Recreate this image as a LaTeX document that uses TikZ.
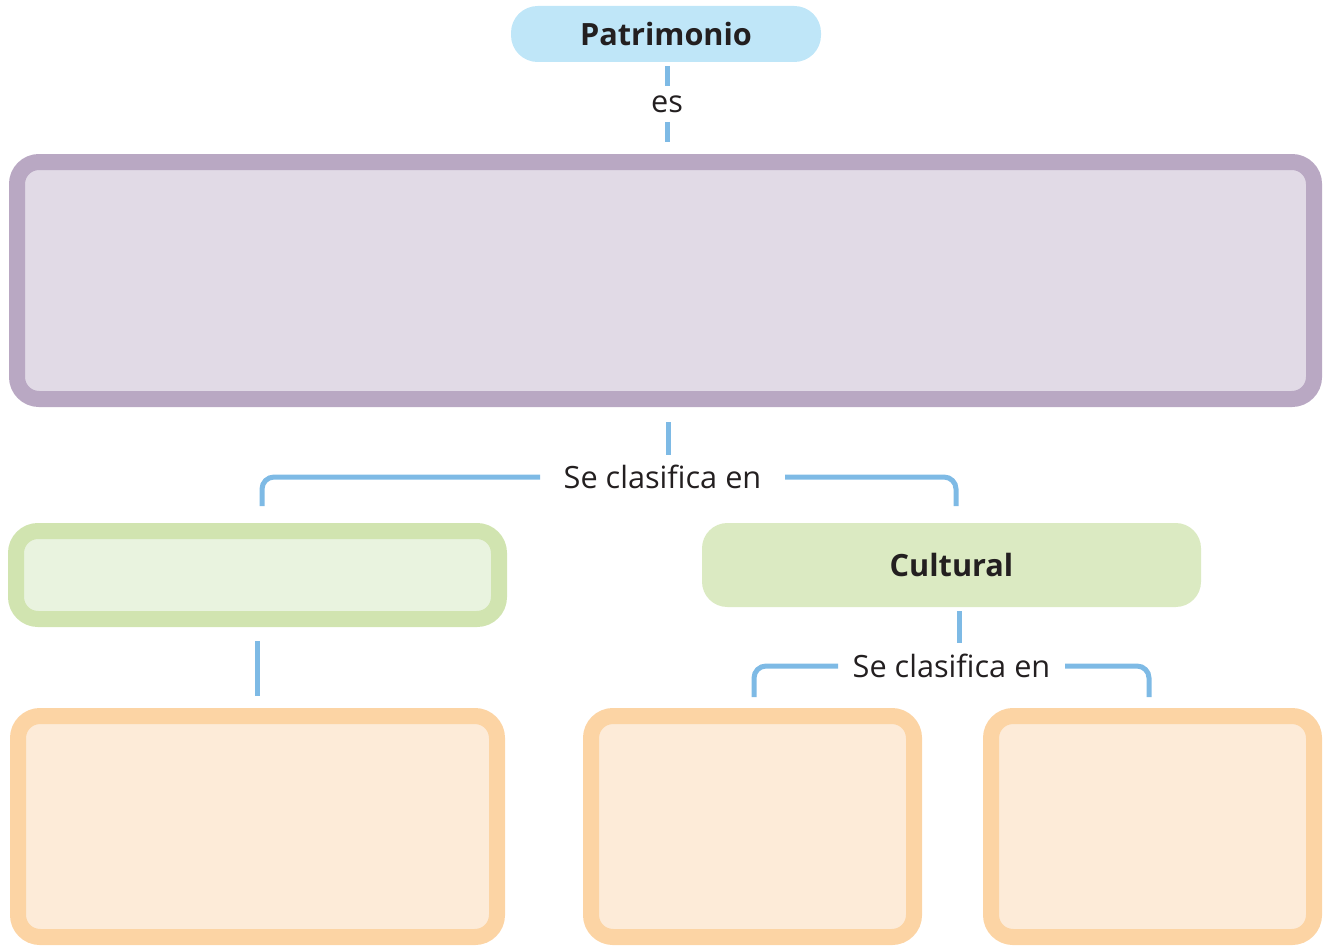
\documentclass[tikz,border=0pt]{standalone}
\usepackage{fontspec}
\setmainfont{Open Sans}
\usetikzlibrary{calc}
\definecolor{conn}{HTML}{7EBAE5}
\definecolor{patfill}{HTML}{BFE6F8}
\definecolor{purpbd}{HTML}{B9A8C3}
\definecolor{purpfill}{HTML}{E1DAE6}
\definecolor{grnbd}{HTML}{D1E4B0}
\definecolor{grnfill}{HTML}{E9F3DF}
\definecolor{cultfill}{HTML}{DBEAC2}
\definecolor{orgbd}{HTML}{FCD4A4}
\definecolor{orgfill}{HTML}{FDEBD8}
\definecolor{txt}{HTML}{231F20}
\tikzset{
  x=0.75pt, y=-0.75pt,
  boxstyle/.style={draw=#1, line width=12pt, rounded corners=16.5pt, inner sep=0pt, outer sep=0pt},
  pill/.style={fill=#1, rounded corners=20pt, inner sep=0pt, outer sep=0pt, text=txt,
    font=\fontsize{23}{27}\selectfont\bfseries},
  lbl/.style={inner sep=0pt, outer sep=0pt, text=txt, font=\fontsize{23}{27}\selectfont},
  connline/.style={draw=conn, line width=3.75pt},
}
\begin{document}
\begin{tikzpicture}
\useasboundingbox (0,0) rectangle (1333,945);
% nodes
\node[pill=patfill, minimum width=232.5pt, minimum height=42pt] (pat) at (666,34) {Patrimonio};
\node[lbl, minimum height=27pt] (es) at (667,104) {es};
\node[boxstyle=purpbd, fill=purpfill, minimum width=972.75pt, minimum height=177.75pt] (purple) at (665.5,280.5) {};
\node[lbl, minimum width=183.75pt, minimum height=30pt] (sc1) at (662.5,477) {Se clasifica en};
\node[boxstyle=grnbd, fill=grnfill, minimum width=362.25pt, minimum height=66pt] (green) at (257.5,575) {};
\node[pill=cultfill, rounded corners=19pt, minimum width=374.25pt, minimum height=63pt] (cult) at (951.5,565) {Cultural};
\node[lbl, minimum width=170.25pt, minimum height=30pt] (sc2) at (951.5,666) {Se clasifica en};
\node[boxstyle=orgbd, fill=orgfill, minimum width=359.25pt, minimum height=165.75pt] (orgL) at (257.5,826.5) {};
\node[boxstyle=orgbd, fill=orgfill, minimum width=242.25pt, minimum height=165.75pt] (orgM) at (752.5,826.5) {};
\node[boxstyle=orgbd, fill=orgfill, minimum width=242.25pt, minimum height=165.75pt] (orgR) at (1152.5,826.5) {};
% connectors
\draw[connline] ($(pat.south)+(1,4)$) -- (es.north);
\draw[connline] (es.south) -- ($(es.south |- purple.north)+(0,-20)$);
\draw[connline] ($(purple.south)+(2.5,23)$) -- ($(purple.south)+(2.5,56)$);
\draw[connline, rounded corners=9pt] (sc1.west) -| ($(green.north)+(4.5,-25)$);
\draw[connline, rounded corners=9pt] (sc1.east) -| ($(cult.north)+(4.5,-17)$);
\draw[connline] ($(green.south)+(0,22)$) -- ($(orgL.north)+(0,-20)$);
\draw[connline] ($(cult.south)+(7.5,4)$) -- ($(cult.south)+(7.5,36)$);
\draw[connline, rounded corners=9pt] (sc2.west) -| ($(orgM.north)+(1.5,-19)$);
\draw[connline, rounded corners=9pt] (sc2.east) -| ($(orgR.north)+(-3.5,-19)$);
\end{tikzpicture}
\end{document}
